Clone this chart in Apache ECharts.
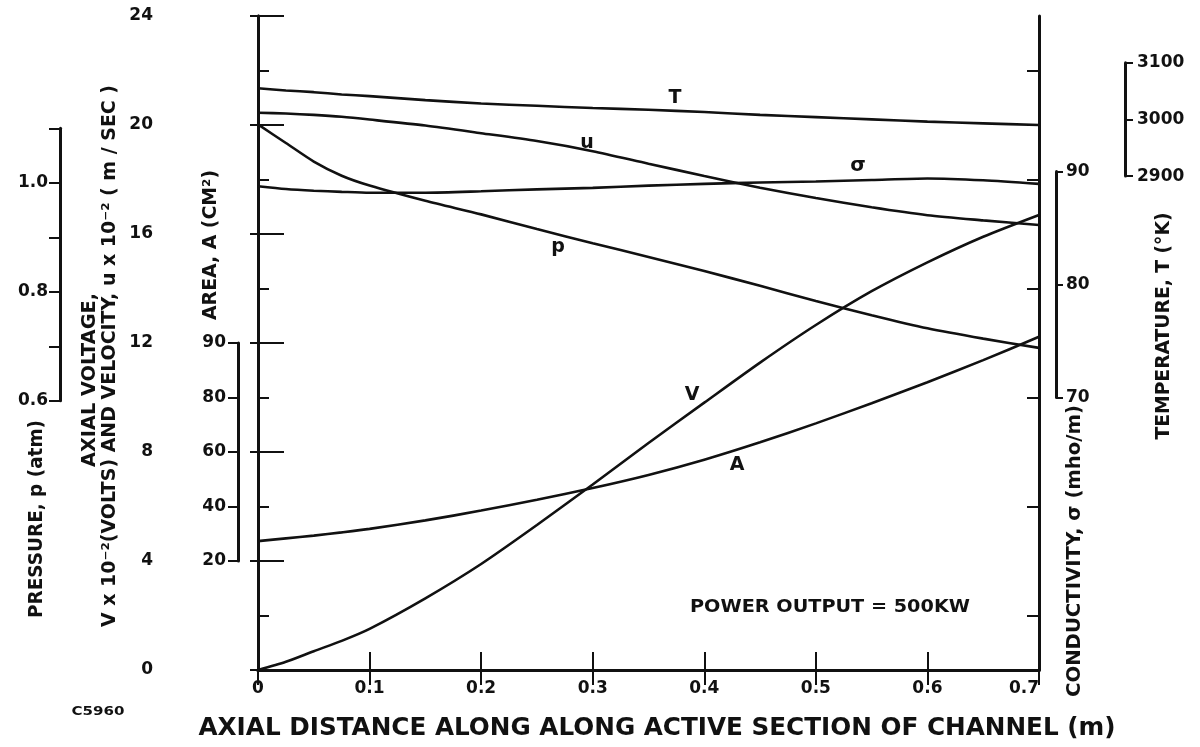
<!DOCTYPE html>
<html><head><meta charset="utf-8">
<script src="https://cdn.jsdelivr.net/npm/echarts@6/dist/echarts.min.js"></script>
<style>html,body{margin:0;padding:0;background:#fff}#c{width:1200px;height:747px}</style>
</head><body><div id="c"></div>
<script>
// ---- data ----
const distance     = [0, 0.025, 0.05, 0.075, 0.1, 0.15, 0.2, 0.25, 0.3, 0.35, 0.4, 0.45, 0.5, 0.55, 0.6, 0.65, 0.7];
const voltage      = [0, 0.3, 0.69, 1.07, 1.51, 2.63, 3.89, 5.32, 6.81, 8.33, 9.81, 11.28, 12.66, 13.9, 14.96, 15.9, 16.7];
const velocity     = [20.45, 20.42, 20.37, 20.3, 20.2, 19.98, 19.7, 19.41, 19.04, 18.58, 18.13, 17.7, 17.32, 16.98, 16.69, 16.5, 16.33];
const pressure     = [1.107, 1.073, 1.039, 1.013, 0.995, 0.967, 0.942, 0.915, 0.889, 0.864, 0.838, 0.811, 0.783, 0.757, 0.733, 0.714, 0.697];
const area         = [27.3, 28.3, 29.3, 30.5, 31.8, 34.9, 38.5, 42.5, 46.8, 51.6, 57.2, 63.6, 70.5, 77.9, 85.6, 93.7, 102.3];
const conductivity = [88.7, 88.45, 88.3, 88.2, 88.12, 88.12, 88.25, 88.42, 88.55, 88.75, 88.9, 89.03, 89.12, 89.25, 89.38, 89.22, 88.9];
const temperature  = [3055, 3051, 3048, 3044, 3041, 3034, 3028, 3024, 3020, 3017, 3013, 3008, 3004, 3000, 2996, 2993, 2990];

// ---- tick labels ----
const distanceTicks = [0, 0.1, 0.2, 0.3, 0.4, 0.5, 0.6, 0.7];
const vuTicks = [0, 4, 8, 12, 16, 20, 24];
const pressureTickMarks = [0.6, 0.7, 0.8, 0.9, 1.0, 1.1];
const pressureTicks = [0.6, 0.8, 1.0];
const pressureTickLabels = ['0.6', '0.8', '1.0'];
const areaTicks = [20, 40, 60, 80, 100];
const areaTickLabels = ['20', '40', '60', '80', '90'];
const sigmaTicks = [70, 80, 90];
const tempTicks = [2900, 3000, 3100];

// ---- layout ----
const GRID_LEFT = 258, GRID_RIGHT_X = 1039, GRID_TOP = 16, GRID_BOTTOM_Y = 670;
const V_MAX = 24;
const PX_PER_V = (GRID_BOTTOM_Y - GRID_TOP) / V_MAX;
const yPix = v => GRID_BOTTOM_Y - v * PX_PER_V;

// secondary scales expressed in main-axis (V) units
const scaleP = {ref: 1.0, at: 17.88, k: 20};
const scaleA = {ref: 20, at: 4, k: 0.1};
const scaleS = {ref: 80, at: 14.147, k: 0.4147};
const scaleT = {ref: 3000, at: 20.206, k: 0.020807};
const toV = (s, q) => s.at + (q - s.ref) * s.k;
const fromV = (s, v) => s.ref + (v - s.at) / s.k;
const hidden = (s) => ({min: fromV(s, 0), max: fromV(s, V_MAX)});
const shortGrid = (s, lo, hi, x) => {
  const top = yPix(toV(s, hi));
  return {left: x, width: 1, top: top, height: yPix(toV(s, lo)) - top, outerBoundsMode: 'none'};
};

const INK = '#111';
const FONT = 'DejaVu Sans';
const tickFont = {color: INK, fontFamily: FONT, fontWeight: 'bold', fontSize: 17};
const line3 = {lineStyle: {color: INK, width: 3}};

const pairs = ys => distance.map((x, i) => [x, ys[i]]);
const curve = (name, ys, yIdx) => ({
  name, type: 'line', xAxisIndex: 0, yAxisIndex: yIdx, data: pairs(ys),
  smooth: 0.25, symbol: 'none', silent: true,
  lineStyle: {color: INK, width: 2.6}
});

// text fitting
const cv = document.createElement('canvas').getContext('2d');
function fitScale(text, font, target) { cv.font = font; return target / cv.measureText(text).width; }
function label(text, x, y, size, target, rot) {
  const font = 'bold ' + size + 'px "' + FONT + '"';
  const el = {type: 'text', x, y, silent: true,
    style: {text, font, fill: INK, align: 'center', verticalAlign: 'middle'}};
  if (rot) el.rotation = Math.PI / 2;
  if (target) el.scaleX = fitScale(text, font, target);
  return el;
}

const chart = echarts.init(document.getElementById('c'), null, {renderer: 'canvas'});
chart.setOption({
  animation: false,
  backgroundColor: '#fff',
  grid: [
    {left: GRID_LEFT, top: GRID_TOP, width: GRID_RIGHT_X - GRID_LEFT, height: GRID_BOTTOM_Y - GRID_TOP, outerBoundsMode: 'none'},
    shortGrid(scaleP, 0.6, 1.1, 60),
    shortGrid(scaleA, 20, 100, 238),
    shortGrid(scaleS, 70, 90, 1056),
    shortGrid(scaleT, 2900, 3100, 1125)
  ],
  xAxis: [
    {gridIndex: 0, type: 'value', position: 'bottom', min: 0, max: 0.7, interval: 0.1,
      axisLine: line3, splitLine: {show: false},
      axisTick: {inside: true, length: 18, lineStyle: {color: INK, width: 2}},
      axisLabel: Object.assign({margin: 10, alignMaxLabel: 'right', customValues: distanceTicks,
        formatter: v => v === 0 ? '0' : v.toFixed(1)}, tickFont)},
    {gridIndex: 0, type: 'value', position: 'top', min: 0, max: 0.7, interval: 0.1,
      axisLine: line3, splitLine: {show: false},
      axisTick: {inside: true, length: 15, lineStyle: {color: INK, width: 2}},
      axisLabel: {show: false}},
    {gridIndex: 1, type: 'value', min: 0, max: 1, show: false},
    {gridIndex: 2, type: 'value', min: 0, max: 1, show: false},
    {gridIndex: 3, type: 'value', min: 0, max: 1, show: false},
    {gridIndex: 4, type: 'value', min: 0, max: 1, show: false}
  ],
  yAxis: [
    // 0: V and u axis (offset to the left)
    {gridIndex: 0, type: 'value', position: 'left', offset: GRID_LEFT - 166, min: 0, max: V_MAX, interval: 4,
      axisLine: line3, splitLine: {show: false},
      axisTick: {length: 8, lineStyle: {color: INK, width: 2}},
      axisLabel: Object.assign({margin: 13, customValues: vuTicks}, tickFont)},
    // 1: frame left
    {gridIndex: 0, type: 'value', position: 'left', offset: 0, min: 0, max: V_MAX, interval: 4,
      axisLine: line3, splitLine: {show: false},
      axisTick: {inside: true, length: 26, lineStyle: {color: INK, width: 2}},
      minorTick: {show: true, splitNumber: 2, length: 11, lineStyle: {color: INK, width: 2}},
      axisLabel: {show: false}},
    // 2: frame right
    {gridIndex: 0, type: 'value', position: 'right', offset: 0, min: 0, max: V_MAX,
      axisLine: line3, splitLine: {show: false},
      axisTick: {inside: true, length: 12, customValues: [2, 6, 10, 14, 18, 22], lineStyle: {color: INK, width: 2}},
      axisLabel: {show: false}},
    // 3-6: hidden scales used by the curves
    Object.assign({gridIndex: 0, type: 'value', show: false}, hidden(scaleP)),
    Object.assign({gridIndex: 0, type: 'value', show: false}, hidden(scaleA)),
    Object.assign({gridIndex: 0, type: 'value', show: false}, hidden(scaleS)),
    Object.assign({gridIndex: 0, type: 'value', show: false}, hidden(scaleT)),
    // 7: pressure axis
    {gridIndex: 1, type: 'value', position: 'left', min: 0.6, max: 1.1,
      axisLine: line3, splitLine: {show: false},
      axisTick: {length: 11, customValues: pressureTickMarks, lineStyle: {color: INK, width: 2}},
      axisLabel: Object.assign({margin: 12, customValues: pressureTicks,
        formatter: v => pressureTickLabels[pressureTicks.findIndex(t => Math.abs(t - v) < 1e-6)] || ''}, tickFont)},
    // 8: area axis
    {gridIndex: 2, type: 'value', position: 'left', min: 20, max: 100,
      axisLine: line3, splitLine: {show: false},
      axisTick: {length: 10, customValues: areaTicks, lineStyle: {color: INK, width: 2}},
      axisLabel: Object.assign({margin: 12, customValues: areaTicks,
        formatter: v => areaTickLabels[areaTicks.indexOf(v)] || ''}, tickFont)},
    // 9: conductivity axis
    {gridIndex: 3, type: 'value', position: 'right', min: 70, max: 90,
      axisLine: line3, splitLine: {show: false},
      axisTick: {length: 7, customValues: sigmaTicks, lineStyle: {color: INK, width: 2}},
      axisLabel: Object.assign({margin: 9, customValues: sigmaTicks, formatter: v => String(v)}, tickFont)},
    // 10: temperature axis
    {gridIndex: 4, type: 'value', position: 'right', min: 2900, max: 3100,
      axisLine: line3, splitLine: {show: false},
      axisTick: {length: 8, customValues: tempTicks, lineStyle: {color: INK, width: 2}},
      axisLabel: Object.assign({margin: 11, customValues: tempTicks, formatter: v => String(v)}, tickFont)}
  ],
  series: [
    curve('T', temperature, 6),
    curve('u', velocity, 0),
    curve('σ', conductivity, 5),
    curve('p', pressure, 3),
    curve('V', voltage, 0),
    curve('A', area, 4)
  ],
  graphic: [
    label('T', 675, 98, 19),
    label('u', 587, 143, 19),
    label('σ', 858, 166, 20),
    label('p', 558, 247, 19),
    label('V', 692, 395, 19),
    label('A', 737, 465, 19),
    label('POWER OUTPUT = 500KW', 830, 607, 18, 280),
    label('C5960', 98, 712, 13, 53),
    label('AXIAL DISTANCE ALONG ALONG ACTIVE SECTION OF CHANNEL (m)', 657, 728, 25, 917),
    label('PRESSURE, p (atm)', 37, 519, 20, 198, true),
    label('AXIAL VOLTAGE,', 90, 380, 19, 174, true),
    label('V x 10⁻²(VOLTS) AND VELOCITY, u x 10⁻² ( m / SEC )', 110, 356, 19, 542, true),
    label('AREA, A (CM²)', 211, 245, 19, 150, true),
    label('CONDUCTIVITY, σ (mho/m)', 1075, 551, 20, 292, true),
    label('TEMPERATURE, T (°K)', 1164, 326, 20, 227, true)
  ]
});
</script>
</body></html>
